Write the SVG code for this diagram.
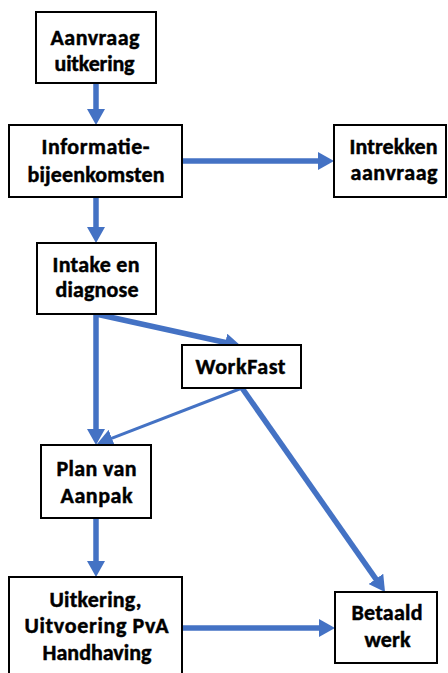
<svg xmlns="http://www.w3.org/2000/svg" width="448" height="673" viewBox="0 0 448 673">
<style>
.box{fill:#fff;stroke:#000;stroke-width:2}
.t{font-family:Carlito,Calibri,Lato,"Open Sans",sans-serif;font-weight:bold;font-size:22px;fill:#000;stroke:#000;stroke-width:0.45;text-anchor:middle}
.c{stroke:#4472C4;stroke-width:5.5;fill:none}
.thin{stroke-width:3}
</style>
<defs>
<marker id="ah" viewBox="0 0 16 18" refX="6" refY="9" markerWidth="16" markerHeight="18" markerUnits="userSpaceOnUse" orient="auto">
<path d="M0,0 L16,9 L0,18 Z" fill="#4472C4"/>
</marker>
</defs>
<rect width="448" height="673" fill="#fff"/>
<g id="connectors">
<line class="c" x1="96" y1="83" x2="96" y2="115" marker-end="url(#ah)"/>
<line class="c" x1="182" y1="161" x2="324" y2="161" marker-end="url(#ah)"/>
<line class="c" x1="96" y1="197" x2="96" y2="233" marker-end="url(#ah)"/>
<line class="c" x1="96" y1="314" x2="96" y2="435" marker-end="url(#ah)"/>
<line class="c" x1="96" y1="314" x2="231.2" y2="343.8" marker-end="url(#ah)"/>
<line class="c thin" x1="242" y1="388" x2="106.3" y2="440.4" marker-end="url(#ah)"/>
<line class="c" x1="242" y1="388" x2="379.3" y2="583.8" marker-end="url(#ah)"/>
<line class="c" x1="96" y1="518" x2="96" y2="567" marker-end="url(#ah)"/>
<line class="c" x1="182" y1="628" x2="325" y2="628" marker-end="url(#ah)"/>
</g>
<g id="n1"><rect class="box" x="36" y="12" width="120" height="71"/><text class="t" x="95" y="45" textLength="89">Aanvraag</text><text class="t" x="94.5" y="71" textLength="80">uitkering</text></g>
<g id="n2"><rect class="box" x="9" y="125" width="173" height="72"/><text class="t" x="95.5" y="154" textLength="108">Informatie-</text><text class="t" x="96" y="182" textLength="137">bijeenkomsten</text></g>
<g id="n3"><rect class="box" x="334" y="125" width="112" height="72"/><text class="t" x="393.5" y="154" textLength="88">Intrekken</text><text class="t" x="394" y="180" textLength="87">aanvraag</text></g>
<g id="n4"><rect class="box" x="37" y="243" width="119" height="71"/><text class="t" x="96" y="272" textLength="87">Intake en</text><text class="t" x="97" y="297" textLength="83">diagnose</text></g>
<g id="n5"><rect class="box" x="182" y="345" width="119" height="43"/><text class="t" x="240.5" y="374" textLength="90">WorkFast</text></g>
<g id="n6"><rect class="box" x="41" y="445" width="110" height="73"/><text class="t" x="96.5" y="476" textLength="80">Plan van</text><text class="t" x="96.5" y="503" textLength="72">Aanpak</text></g>
<g id="n7"><rect class="box" x="9" y="577" width="173" height="98"/><text class="t" x="95.5" y="607" textLength="92">Uitkering,</text><text class="t" x="96.5" y="633" textLength="144">Uitvoering PvA</text><text class="t" x="97" y="660" textLength="109">Handhaving</text></g>
<g id="n8"><rect class="box" x="335" y="592" width="102" height="71"/><text class="t" x="387" y="620" textLength="71">Betaald</text><text class="t" x="387.5" y="647" textLength="46">werk</text></g>
</svg>
